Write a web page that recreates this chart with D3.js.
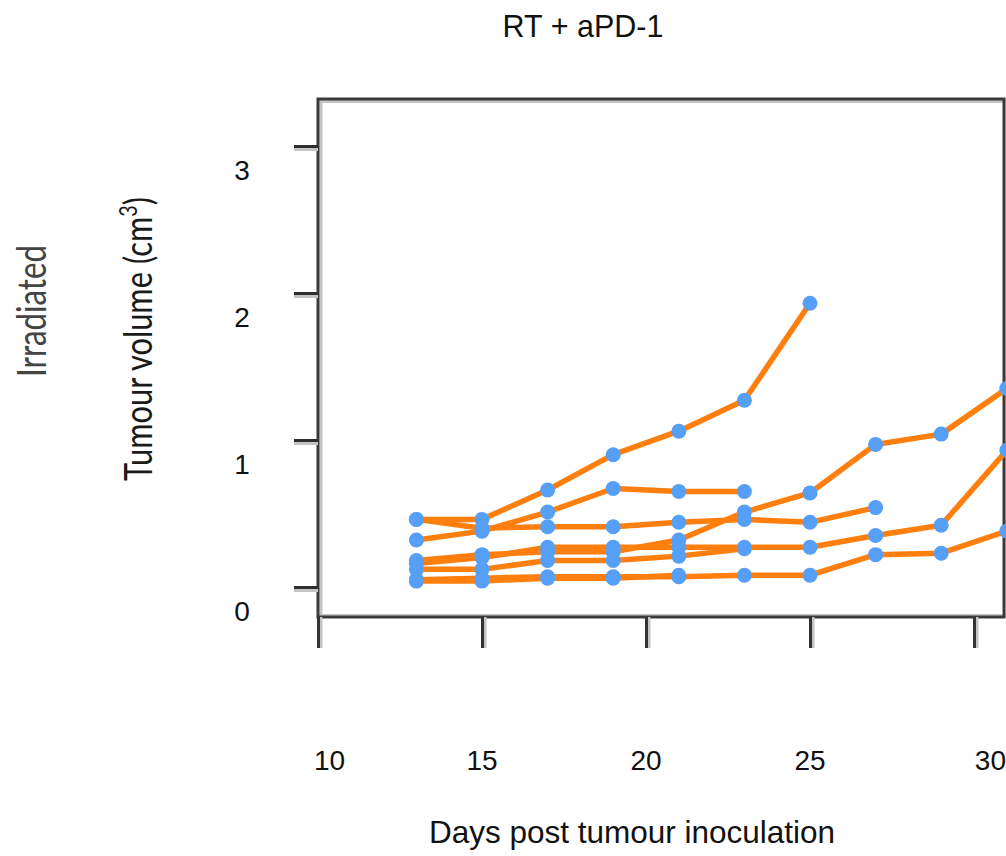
<!DOCTYPE html>
<html>
<head>
<meta charset="utf-8">
<script src="https://cdn.jsdelivr.net/npm/d3@7"></script>
<style>
  body { margin: 0; background: #fff; }
  svg { display: block; }
</style>
</head>
<body>
<div id="chart"></div>
<script>
// tumour growth curves, one array per mouse (cm^3), sampled every 2 days
const days = [13, 15, 17, 19, 21, 23, 25, 27, 29, 31];
const mouseA = [0.46, 0.46, 0.66, 0.90, 1.06, 1.27, 1.93];
const mouseB = [0.32, 0.38, 0.51, 0.67, 0.65, 0.65];
const mouseC = [0.18, 0.22, 0.24, 0.24, 0.32, 0.51, 0.64, 0.97, 1.04, 1.35];
const mouseD = [0.46, 0.40, 0.41, 0.41, 0.44, 0.46, 0.44, 0.54];
const mouseE = [0.16, 0.20, 0.27, 0.27, 0.27, 0.27, 0.27, 0.35, 0.42, 0.93];
const mouseF = [0.05, 0.06, 0.07, 0.07, 0.07, 0.08, 0.08, 0.22, 0.23, 0.38];
const mouseG = [0.12, 0.12, 0.18, 0.18, 0.21, 0.26];
const mouseH = [0.04, 0.04, 0.06, 0.06, 0.08];
const mice = [mouseA, mouseB, mouseC, mouseD, mouseE, mouseF, mouseG, mouseH];

const xTicks = [10, 15, 20, 25, 30];
const yTicks = [0, 1, 2, 3];

const width = 1006, height = 856;
const frame = {left: 318, top: 99, right: 1004, bottom: 617};

const x = d3.scaleLinear().domain([10, 30]).range([318, 974]);
const y = d3.scaleLinear().domain([0, 3]).range([587, 146]);

const svg = d3.select("#chart").append("svg")
    .attr("width", width)
    .attr("height", height);

// frame (dark edge with a grey inner shadow)
svg.append("rect")
    .attr("x", frame.left + 3).attr("y", frame.top + 2.5)
    .attr("width", frame.right - frame.left).attr("height", frame.bottom - frame.top - 4)
    .attr("fill", "none").attr("stroke", "#c4c4c4").attr("stroke-width", 3);
svg.append("rect")
    .attr("x", frame.left).attr("y", frame.top)
    .attr("width", frame.right - frame.left).attr("height", frame.bottom - frame.top)
    .attr("fill", "none").attr("stroke", "#3a3a3a").attr("stroke-width", 3);

// y ticks
const yAxis = d3.axisLeft(y).tickValues(yTicks).tickSize(24).tickFormat("");
const gyShadow = svg.append("g").attr("transform", `translate(${frame.left},3)`).call(yAxis);
gyShadow.selectAll("line").attr("stroke", "#c4c4c4").attr("stroke-width", 3);
const gy = svg.append("g").attr("transform", `translate(${frame.left},0)`).call(yAxis);
gy.selectAll("line").attr("stroke", "#2e2e2e").attr("stroke-width", 3);
svg.selectAll(".domain").remove();

// x ticks
const xAxis = d3.axisBottom(x).tickValues(xTicks).tickSize(31).tickFormat("");
const gxShadow = svg.append("g").attr("transform", `translate(2.5,${frame.bottom})`).call(xAxis);
gxShadow.selectAll("line").attr("stroke", "#c4c4c4").attr("stroke-width", 3);
const gx = svg.append("g").attr("transform", `translate(0,${frame.bottom})`).call(xAxis);
gx.selectAll("line").attr("stroke", "#333").attr("stroke-width", 3);
svg.selectAll(".domain").remove();

// tick labels
svg.append("g").selectAll("text")
    .data(yTicks).enter().append("text")
    .attr("x", 242)
    .attr("y", d => y(d) + 24)
    .attr("dy", "0.35em")
    .attr("text-anchor", "middle")
    .attr("font-family", "Liberation Sans, Arial, sans-serif")
    .attr("font-size", 28)
    .attr("fill", "#111")
    .text(d => d);

svg.append("g").selectAll("text")
    .data(xTicks).enter().append("text")
    .attr("x", (d, i) => i === 0 ? x(d) - 4 : (i === xTicks.length - 1 ? width : x(d)))
    .attr("y", 760)
    .attr("dy", "0.35em")
    .attr("text-anchor", (d, i) => i === 0 ? "start" : (i === xTicks.length - 1 ? "end" : "middle"))
    .attr("font-family", "Liberation Sans, Arial, sans-serif")
    .attr("font-size", 28)
    .attr("fill", "#111")
    .text(d => d);

// titles
svg.append("text")
    .attr("x", 583).attr("y", 26).attr("dy", "0.35em")
    .attr("text-anchor", "middle")
    .attr("font-family", "Liberation Sans, Arial, sans-serif")
    .attr("font-size", 30.5)
    .attr("fill", "#111")
    .text("RT + aPD-1");

svg.append("text")
    .attr("x", 632).attr("y", 832).attr("dy", "0.35em")
    .attr("text-anchor", "middle")
    .attr("font-family", "Liberation Sans, Arial, sans-serif")
    .attr("font-size", 31.5)
    .attr("fill", "#111")
    .text("Days post tumour inoculation");

svg.append("text")
    .attr("transform", "translate(46,311) rotate(-90)")
    .attr("text-anchor", "middle")
    .attr("font-family", "Lato, sans-serif")
    .attr("font-weight", 400)
    .attr("font-size", 41)
    .attr("fill", "#444")
    .attr("textLength", 132)
    .attr("lengthAdjust", "spacingAndGlyphs")
    .text("Irradiated");

const yLab = svg.append("text")
    .attr("transform", "translate(152,339) rotate(-90)")
    .attr("text-anchor", "middle")
    .attr("font-family", "Lato, sans-serif")
    .attr("font-weight", 400)
    .attr("font-size", 39)
    .attr("fill", "#1a1a1a")
    .attr("textLength", 284)
    .attr("lengthAdjust", "spacingAndGlyphs");
yLab.append("tspan").text("Tumour volume (cm");
yLab.append("tspan").attr("baseline-shift", "super").attr("font-size", 25).text("3");
yLab.append("tspan").text(")");

// growth curves
const line = d3.line()
    .x((d, i) => x(days[i]))
    .y(d => y(d));

svg.append("g").selectAll("path")
    .data(mice).enter().append("path")
    .attr("d", line)
    .attr("fill", "none")
    .attr("stroke", "#ff7f0e")
    .attr("stroke-width", 5.5)
    .attr("stroke-linejoin", "round");

svg.append("g").selectAll("g")
    .data(mice).enter().append("g")
    .selectAll("circle")
    .data(d => d).enter().append("circle")
    .attr("cx", (d, i) => x(days[i]))
    .attr("cy", d => y(d))
    .attr("r", 7.5)
    .attr("fill", "#569ff7");
</script>
</body>
</html>
